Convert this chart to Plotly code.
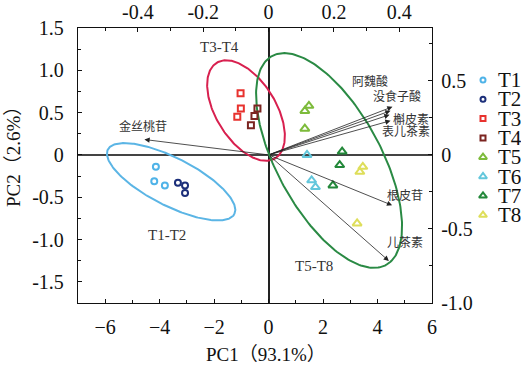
import numpy as np
import plotly.graph_objects as go

# ---------------- data ----------------
groups = ["T1", "T2", "T3", "T4", "T5", "T6", "T7", "T8"]
T1_pc1 = [-4.14, -4.20, -3.81]; T1_pc2 = [-0.14, -0.31, -0.36]
T2_pc1 = [-3.33, -3.07, -3.07]; T2_pc2 = [-0.33, -0.36, -0.45]
T3_pc1 = [-1.03, -1.02, -1.15]; T3_pc2 = [0.73, 0.55, 0.45]
T4_pc1 = [-0.41, -0.52, -0.65]; T4_pc2 = [0.55, 0.46, 0.35]
T5_pc1 = [1.48, 1.33, 1.33];    T5_pc2 = [0.58, 0.52, 0.31]
T6_pc1 = [1.41, 1.58, 1.72];    T6_pc2 = [0.00, -0.30, -0.38]
T7_pc1 = [2.70, 2.61, 2.36];    T7_pc2 = [0.04, -0.12, -0.36]
T8_pc1 = [3.46, 3.35, 3.25];    T8_pc2 = [-0.14, -0.20, -0.81]
scores = {
    "T1": (T1_pc1, T1_pc2), "T2": (T2_pc1, T2_pc2), "T3": (T3_pc1, T3_pc2),
    "T4": (T4_pc1, T4_pc2), "T5": (T5_pc1, T5_pc2), "T6": (T6_pc1, T6_pc2),
    "T7": (T7_pc1, T7_pc2), "T8": (T8_pc1, T8_pc2),
}

loading_names = ["金丝桃苷", "阿魏酸", "没食子酸", "槲皮素", "表儿茶素", "根皮苷", "儿茶素"]
loading_pc1 = [-0.380, 0.379, 0.373, 0.370, 0.373, 0.378, 0.368]
loading_pc2 = [0.104, 0.325, 0.298, 0.271, 0.231, -0.340, -0.716]

cluster_names = ["T1-T2", "T3-T4", "T5-T8"]

pc1_ticks = [-6, -4, -2, 0, 2, 4, 6]
pc2_ticks = [-1.5, -1.0, -0.5, 0, 0.5, 1.0, 1.5]
pc2_ticklabels = ["-1.5", "-1.0", "-0.5", "0", "0.5", "1.0", "1.5"]
load1_ticks = [-0.4, -0.2, 0, 0.2, 0.4]
load1_ticklabels = ["-0.4", "-0.2", "0", "0.2", "0.4"]
load2_ticks = [-1.0, -0.5, 0, 0.5]
load2_ticklabels = ["-1.0", "-0.5", "0", "0.5"]

# ---------------- styles / layout ----------------
W, H = 521, 369
ML, MR, MT, MB = 78, 0, 28, 66
PLOT_R = 432
XR = [-7, 6]
YR = [-1.75, 1.5]
XS = (PLOT_R - ML) / (XR[1] - XR[0])          # px per PC1 unit
YS = (H - MB - MT) / (YR[1] - YR[0])          # px per PC2 unit
XDOM = (PLOT_R - ML) / (W - ML - MR)
PW = W - ML - MR
PH = H - MB - MT

SERIF = "Liberation Serif, Times New Roman, DejaVu Serif, serif"
CJK = "Noto Sans CJK SC"

styles = {
    "T1": dict(symbol="circle-open", color="#4fb3e8", size=6),
    "T2": dict(symbol="circle-open", color="#1c2f7a", size=6),
    "T3": dict(symbol="square-open", color="#e8322e", size=6),
    "T4": dict(symbol="square-open", color="#7b2420", size=6),
    "T5": dict(symbol="triangle-up-open", color="#7dbb3b", size=8),
    "T6": dict(symbol="triangle-up-open", color="#63c7dc", size=8),
    "T7": dict(symbol="triangle-up-open", color="#23883a", size=8),
    "T8": dict(symbol="triangle-up-open", color="#dede5a", size=8),
}

# ellipse geometry: centre in data units, semi-axes in px, screen angle in deg
ellipse_geom = {
    "T1-T2": dict(cx=-3.58, cy=-0.317, a=71, b=24, ang=-27, color="#5bb5e5"),
    "T3-T4": dict(cx=-0.83, cy=0.525, a=56, b=30, ang=-58.5, color="#d8204f"),
    "T5-T8": dict(cx=2.22, cy=-0.066, a=119, b=52, ang=-61.4, color="#2a8a44"),
}
cluster_label_pos = {"T1-T2": (-3.73, -0.95), "T3-T4": (-1.81, 1.28), "T5-T8": (1.65, -1.31)}

# label pixel offsets relative to arrow tips (right, up)
label_shift = {
    "金丝桃苷": (-1, 14), "阿魏酸": (-22, 26), "没食子酸": (6, 15),
    "槲皮素": (21, -4), "表儿茶素": (15, -10), "根皮苷": (13, 11), "儿茶素": (16, 19),
}

fig = go.Figure()

# ellipses
t = np.linspace(0, 2 * np.pi, 241)
for name in cluster_names:
    g = ellipse_geom[name]
    A = np.deg2rad(g["ang"])
    dx = g["a"] * np.cos(t) * np.cos(A) - g["b"] * np.sin(t) * np.sin(A)
    dy = g["a"] * np.cos(t) * np.sin(A) + g["b"] * np.sin(t) * np.cos(A)
    fig.add_trace(go.Scatter(x=g["cx"] + dx / XS, y=g["cy"] + dy / YS, mode="lines",
                             line=dict(color=g["color"], width=2), showlegend=False,
                             hoverinfo="skip", xaxis="x", yaxis="y"))

# scores
for gname in groups:
    xs, ys = scores[gname]
    s = styles[gname]
    fig.add_trace(go.Scatter(x=xs, y=ys, mode="markers", name=gname, showlegend=False,
                             marker=dict(symbol=s["symbol"], size=s["size"], color=s["color"],
                                         line=dict(color=s["color"], width=2)),
                             xaxis="x", yaxis="y"))

# invisible trace to activate secondary axes
fig.add_trace(go.Scatter(x=loading_pc1, y=loading_pc2, mode="markers",
                         marker=dict(size=1, opacity=0), showlegend=False,
                         hoverinfo="skip", xaxis="x2", yaxis="y2"))

# manual legend
leg_top, leg_gap = 80, 19.3
leg_y = [leg_top + i * leg_gap for i in range(len(groups))]
for i, gname in enumerate(groups):
    s = styles[gname]
    fig.add_trace(go.Scatter(x=[483], y=[leg_y[i]], mode="markers", showlegend=False,
                             marker=dict(symbol=s["symbol"], size=s["size"] - 1, color=s["color"],
                                         line=dict(color=s["color"], width=2)),
                             xaxis="x3", yaxis="y3", cliponaxis=False, hoverinfo="skip"))

annotations = []
for i, gname in enumerate(groups):
    annotations.append(dict(x=496, y=leg_y[i], xref="x3", yref="y3", text=gname,
                            showarrow=False, xanchor="left", yanchor="middle",
                            font=dict(family=SERIF, size=21, color="#111")))
# loading arrows + labels
for n, lx, ly in zip(loading_names, loading_pc1, loading_pc2):
    annotations.append(dict(x=lx, y=ly, xref="x2", yref="y2", ax=0, ay=0,
                            axref="x2", ayref="y2", text="", showarrow=True,
                            arrowhead=2, arrowsize=1.3, arrowwidth=0.8, arrowcolor="#222"))
    sx, sy = label_shift[n]
    annotations.append(dict(x=lx, y=ly, xref="x2", yref="y2", text=n, showarrow=False,
                            xshift=sx, yshift=sy, font=dict(family=CJK, size=12, color="#333")))
for name in cluster_names:
    px_, py_ = cluster_label_pos[name]
    annotations.append(dict(x=px_, y=py_, xref="x", yref="y", text=name, showarrow=False,
                            font=dict(family=SERIF, size=15, color="#333")))
# axis titles
annotations.append(dict(x=(266 - ML) / PW, y=-(355 - (H - MB)) / PH,
                        xref="paper", yref="paper", text="PC1（93.1%）", showarrow=False,
                        xanchor="center", yanchor="middle",
                        font=dict(family=SERIF + ", " + CJK, size=19, color="#111")))
annotations.append(dict(x=-(ML - 13) / PW, y=(H - MB - 152) / PH,
                        xref="paper", yref="paper", text="PC2（2.6%）", showarrow=False,
                        textangle=-90, xanchor="center", yanchor="middle",
                        font=dict(family=SERIF + ", " + CJK, size=19, color="#111")))

axis_common = dict(showline=True, linecolor="#111", linewidth=1.3, ticks="inside",
                   ticklen=4, tickcolor="#111", showgrid=False, automargin=False,
                   tickfont=dict(family=SERIF, size=20, color="#111"))

fig.update_layout(
    template="none",
    font=dict(family=SERIF),
    width=W, height=H, margin=dict(l=ML, r=MR, t=MT, b=MB, autoexpand=False),
    plot_bgcolor="white", paper_bgcolor="white", showlegend=False,
    xaxis=dict(range=XR, domain=[0, XDOM], tickvals=pc1_ticks, anchor="y",
               minor=dict(dtick=1, ticks="inside", ticklen=3, tickcolor="#111"),
               zeroline=True, zerolinecolor="#222", zerolinewidth=1.5,
               ticklabelstandoff=6, **axis_common),
    yaxis=dict(range=YR, tickvals=pc2_ticks, ticktext=pc2_ticklabels, anchor="x",
               minor=dict(dtick=0.25, ticks="inside", ticklen=3, tickcolor="#111"),
               zeroline=True, zerolinecolor="#444", zerolinewidth=2,
               ticklabelstandoff=9, **axis_common),
    xaxis2=dict(range=[XR[0] / 12, XR[1] / 12], domain=[0, XDOM], overlaying="x", side="top",
                anchor="y", tickvals=load1_ticks, ticktext=load1_ticklabels,
                minor=dict(dtick=0.1, ticks="inside", ticklen=3, tickcolor="#111"),
                zeroline=False, ticklabelstandoff=0, **axis_common),
    yaxis2=dict(range=[YR[0] / 1.75, YR[1] / 1.75], overlaying="y", side="right", anchor="x",
                tickvals=load2_ticks, ticktext=load2_ticklabels,
                minor=dict(dtick=0.25, ticks="inside", ticklen=3, tickcolor="#111"),
                zeroline=False, ticklabelstandoff=4, **axis_common),
    xaxis3=dict(domain=[XDOM, 1], range=[PLOT_R, W], visible=False, anchor="y3"),
    yaxis3=dict(domain=[0, 1], range=[H - MB, MT], visible=False, anchor="x3"),
    annotations=annotations,
)

fig.write_html("out.html", config={"displayModeBar": False},
               post_script="document.body.style.margin='0px';")
